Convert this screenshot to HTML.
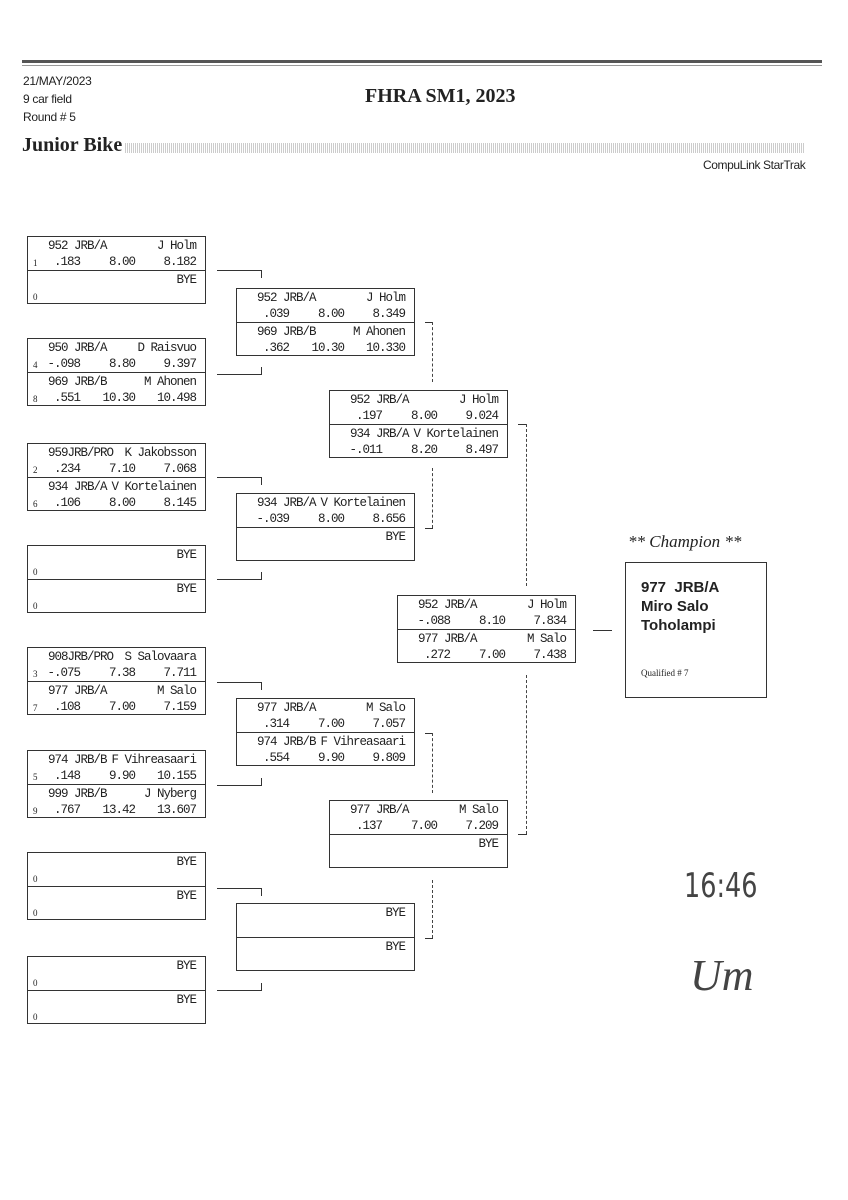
<!DOCTYPE html>
<html><head><meta charset="utf-8"><style>
body{margin:0;width:848px;height:1200px;background:#fff;position:relative;overflow:hidden;font-family:"Liberation Mono",monospace;color:#222}
.a{position:absolute}
.b{position:absolute;width:179px;height:68px;border:1px solid #333;box-sizing:border-box}
.h{position:relative;height:33px}
.h+.h{border-top:1px solid #333;height:34px}
.h span{position:absolute;font-size:12.5px;line-height:16px;white-space:pre;letter-spacing:-1px}
.c{left:20px;top:1px}.n{right:9px;top:1px}
.r{right:125px;top:17px}.e{right:70px;top:17px}.s{right:9px;top:17px}
.h span.q{left:5px;top:18px;font-family:"Liberation Serif",serif;font-size:9px;letter-spacing:0}
.ln{position:absolute;background:#333}
.dv{position:absolute;width:0;border-left:1px dashed #444}
</style></head><body>
<div class="ln" style="left:22px;top:60px;width:800px;height:3px;background:#555"></div>
<div class="ln" style="left:22px;top:65px;width:800px;height:1px;background:#999"></div>
<div class="a" style="left:23px;top:72px;font:12px 'Liberation Sans',sans-serif;line-height:18px;letter-spacing:-0.3px">21/MAY/2023<br>9 car field<br>Round # 5</div>
<div class="a" style="left:365px;top:85px;font:bold 20px 'Liberation Serif',serif">FHRA SM1, 2023</div>
<div class="a" style="left:22px;top:134px;font:bold 20px 'Liberation Serif',serif">Junior Bike</div>
<div class="a" style="left:125px;top:143px;width:680px;height:10px;background:repeating-linear-gradient(90deg,#ccc 0 1px,#fff 1px 2px)"></div>
<div class="a" style="left:703px;top:158px;font:12px 'Liberation Sans',sans-serif;letter-spacing:-0.4px">CompuLink StarTrak</div>

<!-- Round 1 -->
<div class="b" style="left:27px;top:236px"><div class="h"><span class="c">952 JRB/A</span><span class="n">J Holm</span><span class="q">1</span><span class="r">.183</span><span class="e">8.00</span><span class="s">8.182</span></div><div class="h"><span class="n">BYE</span><span class="q">0</span></div></div>
<div class="b" style="left:27px;top:338px"><div class="h"><span class="c">950 JRB/A</span><span class="n">D Raisvuo</span><span class="q">4</span><span class="r">-.098</span><span class="e">8.80</span><span class="s">9.397</span></div><div class="h"><span class="c">969 JRB/B</span><span class="n">M Ahonen</span><span class="q">8</span><span class="r">.551</span><span class="e">10.30</span><span class="s">10.498</span></div></div>
<div class="b" style="left:27px;top:443px"><div class="h"><span class="c">959JRB/PRO</span><span class="n">K Jakobsson</span><span class="q">2</span><span class="r">.234</span><span class="e">7.10</span><span class="s">7.068</span></div><div class="h"><span class="c">934 JRB/A</span><span class="n">V Kortelainen</span><span class="q">6</span><span class="r">.106</span><span class="e">8.00</span><span class="s">8.145</span></div></div>
<div class="b" style="left:27px;top:545px"><div class="h"><span class="n">BYE</span><span class="q">0</span></div><div class="h"><span class="n">BYE</span><span class="q">0</span></div></div>
<div class="b" style="left:27px;top:647px"><div class="h"><span class="c">908JRB/PRO</span><span class="n">S Salovaara</span><span class="q">3</span><span class="r">-.075</span><span class="e">7.38</span><span class="s">7.711</span></div><div class="h"><span class="c">977 JRB/A</span><span class="n">M Salo</span><span class="q">7</span><span class="r">.108</span><span class="e">7.00</span><span class="s">7.159</span></div></div>
<div class="b" style="left:27px;top:750px"><div class="h"><span class="c">974 JRB/B</span><span class="n">F Vihreasaari</span><span class="q">5</span><span class="r">.148</span><span class="e">9.90</span><span class="s">10.155</span></div><div class="h"><span class="c">999 JRB/B</span><span class="n">J Nyberg</span><span class="q">9</span><span class="r">.767</span><span class="e">13.42</span><span class="s">13.607</span></div></div>
<div class="b" style="left:27px;top:852px"><div class="h"><span class="n">BYE</span><span class="q">0</span></div><div class="h"><span class="n">BYE</span><span class="q">0</span></div></div>
<div class="b" style="left:27px;top:956px"><div class="h"><span class="n">BYE</span><span class="q">0</span></div><div class="h"><span class="n">BYE</span><span class="q">0</span></div></div>

<!-- Round 2 -->
<div class="b" style="left:236px;top:288px"><div class="h"><span class="c">952 JRB/A</span><span class="n">J Holm</span><span class="r">.039</span><span class="e">8.00</span><span class="s">8.349</span></div><div class="h"><span class="c">969 JRB/B</span><span class="n">M Ahonen</span><span class="r">.362</span><span class="e">10.30</span><span class="s">10.330</span></div></div>
<div class="b" style="left:236px;top:493px"><div class="h"><span class="c">934 JRB/A</span><span class="n">V Kortelainen</span><span class="r">-.039</span><span class="e">8.00</span><span class="s">8.656</span></div><div class="h"><span class="n">BYE</span></div></div>
<div class="b" style="left:236px;top:698px"><div class="h"><span class="c">977 JRB/A</span><span class="n">M Salo</span><span class="r">.314</span><span class="e">7.00</span><span class="s">7.057</span></div><div class="h"><span class="c">974 JRB/B</span><span class="n">F Vihreasaari</span><span class="r">.554</span><span class="e">9.90</span><span class="s">9.809</span></div></div>
<div class="b" style="left:236px;top:903px"><div class="h"><span class="n">BYE</span></div><div class="h"><span class="n">BYE</span></div></div>

<!-- Round 3 -->
<div class="b" style="left:329px;top:390px"><div class="h"><span class="c">952 JRB/A</span><span class="n">J Holm</span><span class="r">.197</span><span class="e">8.00</span><span class="s">9.024</span></div><div class="h"><span class="c">934 JRB/A</span><span class="n">V Kortelainen</span><span class="r">-.011</span><span class="e">8.20</span><span class="s">8.497</span></div></div>
<div class="b" style="left:329px;top:800px"><div class="h"><span class="c">977 JRB/A</span><span class="n">M Salo</span><span class="r">.137</span><span class="e">7.00</span><span class="s">7.209</span></div><div class="h"><span class="n">BYE</span></div></div>

<!-- Round 4 -->
<div class="b" style="left:397px;top:595px"><div class="h"><span class="c">952 JRB/A</span><span class="n">J Holm</span><span class="r">-.088</span><span class="e">8.10</span><span class="s">7.834</span></div><div class="h"><span class="c">977 JRB/A</span><span class="n">M Salo</span><span class="r">.272</span><span class="e">7.00</span><span class="s">7.438</span></div></div>

<!-- connectors R1->R2 -->
<div class="ln" style="left:217px;top:270px;width:45px;height:1px"></div><div class="ln" style="left:261px;top:270px;width:1px;height:8px"></div>
<div class="ln" style="left:217px;top:374px;width:45px;height:1px"></div><div class="ln" style="left:261px;top:367px;width:1px;height:8px"></div>
<div class="ln" style="left:217px;top:477px;width:45px;height:1px"></div><div class="ln" style="left:261px;top:477px;width:1px;height:8px"></div>
<div class="ln" style="left:217px;top:579px;width:45px;height:1px"></div><div class="ln" style="left:261px;top:572px;width:1px;height:8px"></div>
<div class="ln" style="left:217px;top:682px;width:45px;height:1px"></div><div class="ln" style="left:261px;top:682px;width:1px;height:8px"></div>
<div class="ln" style="left:217px;top:785px;width:45px;height:1px"></div><div class="ln" style="left:261px;top:778px;width:1px;height:8px"></div>
<div class="ln" style="left:217px;top:888px;width:45px;height:1px"></div><div class="ln" style="left:261px;top:888px;width:1px;height:8px"></div>
<div class="ln" style="left:217px;top:990px;width:45px;height:1px"></div><div class="ln" style="left:261px;top:983px;width:1px;height:8px"></div>
<!-- R2->R3 -->
<div class="ln" style="left:425px;top:322px;width:8px;height:1px"></div><div class="dv" style="left:432px;top:322px;height:60px"></div>
<div class="ln" style="left:425px;top:528px;width:8px;height:1px"></div><div class="dv" style="left:432px;top:468px;height:60px"></div>
<div class="ln" style="left:425px;top:733px;width:8px;height:1px"></div><div class="dv" style="left:432px;top:733px;height:60px"></div>
<div class="ln" style="left:425px;top:938px;width:8px;height:1px"></div><div class="dv" style="left:432px;top:880px;height:58px"></div>
<!-- R3->R4 -->
<div class="ln" style="left:518px;top:424px;width:9px;height:1px"></div><div class="dv" style="left:526px;top:424px;height:162px"></div>
<div class="ln" style="left:518px;top:834px;width:9px;height:1px"></div><div class="dv" style="left:526px;top:675px;height:159px"></div>
<!-- R4->champ -->
<div class="ln" style="left:593px;top:630px;width:19px;height:1px"></div>

<div class="a" style="left:628px;top:532px;font:italic 17px 'Liberation Serif',serif">** Champion **</div>
<div class="a" style="left:625px;top:562px;width:142px;height:136px;border:1px solid #333;box-sizing:border-box"></div>
<div class="a" style="left:641px;top:578px;font:bold 15px 'Liberation Sans',sans-serif;line-height:19px">977&nbsp; JRB/A<br>Miro Salo<br>Toholampi</div>
<div class="a" style="left:641px;top:668px;font:9px 'Liberation Serif',serif">Qualified # 7</div>

<div class="a" style="left:684px;top:866px;font:300 34px 'DejaVu Sans',cursive;color:#444;transform:scaleX(0.75);transform-origin:left;font-weight:normal">16:46</div>
<div class="a" style="left:690px;top:950px;font:italic 44px 'Liberation Serif',cursive;color:#444">Um</div>
</body></html>
